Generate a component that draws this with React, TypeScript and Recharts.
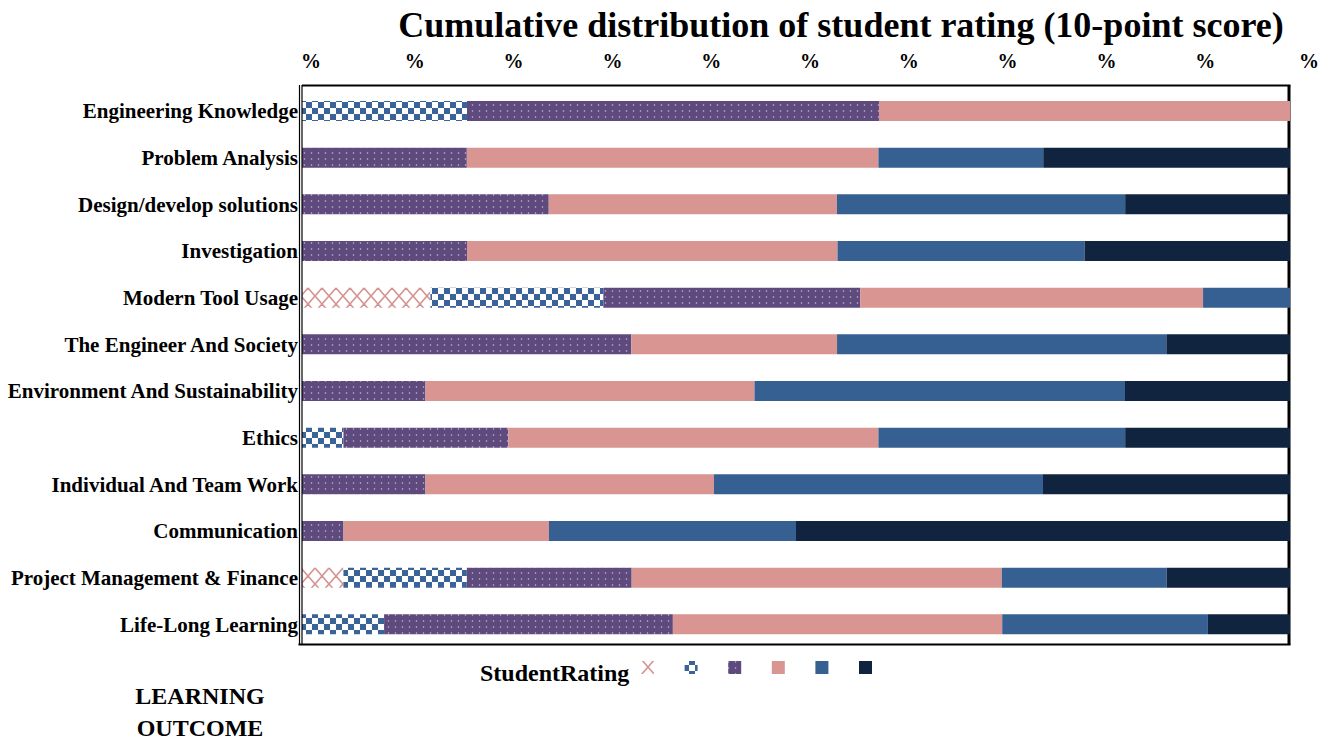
import React from "react";
import { BarChart, Bar, XAxis, YAxis, ReferenceLine, ReferenceArea } from "recharts";

const categories = [
  "Engineering Knowledge",
  "Problem Analysis",
  "Design/develop solutions",
  "Investigation",
  "Modern Tool Usage",
  "The Engineer And Society",
  "Environment And Sustainability",
  "Ethics",
  "Individual And Team Work",
  "Communication",
  "Project Management & Finance",
  "Life-Long Learning",
];

// share of students (%) per rating band, one array per series
const seriesCross = [0, 0, 0, 0, 13.0, 0, 0, 0, 0, 0, 4.2, 0];
const seriesChecker = [16.7, 0, 0, 0, 17.5, 0, 0, 4.2, 0, 0, 12.5, 8.3];
const seriesDots = [41.7, 16.7, 25, 16.7, 26.0, 33.3, 12.5, 16.7, 12.5, 4.2, 16.7, 29.2];
const seriesPink = [41.6, 41.7, 29.2, 37.5, 34.7, 20.8, 33.3, 37.5, 29.2, 20.8, 37.5, 33.3];
const seriesBlue = [0, 16.7, 29.2, 25, 8.8, 33.3, 37.5, 25, 33.3, 25, 16.7, 20.8];
const seriesNavy = [0, 25, 16.7, 20.8, 0, 12.5, 16.7, 16.7, 25, 50, 12.5, 8.3];

const xTicks = [0, 0.1, 0.2, 0.3, 0.4, 0.5, 0.6, 0.7, 0.8, 0.9, 1];

const series = [
  { key: "r1", values: seriesCross, fill: "url(#patCross)" },
  { key: "r2", values: seriesChecker, fill: "url(#patChecker)" },
  { key: "r3", values: seriesDots, fill: "url(#patDots)" },
  { key: "r4", values: seriesPink, fill: "#D99592" },
  { key: "r5", values: seriesBlue, fill: "#376092" },
  { key: "r6", values: seriesNavy, fill: "#10243F" },
];

const data = categories.map((name, i) => {
  const row: any = { name };
  series.forEach((s) => (row[s.key] = s.values[i]));
  return row;
});

const FONT = '"Liberation Serif", "Times New Roman", serif';

const XTick = (props: any) => {
  const { x, payload } = props;
  const digits = String(Math.round(payload.value * 100)).length;
  return (
    <text
      x={x + digits * 5 + 4}
      y={61}
      textAnchor="middle"
      dominantBaseline="central"
      fontFamily={FONT}
      fontWeight="bold"
      fontSize={20}
      fill="#000"
    >
      %
    </text>
  );
};

const YTick = (props: any) => {
  const { x, y, payload } = props;
  return (
    <text
      x={x}
      y={y}
      textAnchor="end"
      dominantBaseline="central"
      fontFamily={FONT}
      fontWeight="bold"
      fontSize={21}
      fill="#000"
    >
      {payload.value}
    </text>
  );
};

const DoubleLeftLine = (props: any) => {
  const { x1, y1, x2, y2 } = props;
  return <line x1={x1 - 2.5} y1={y1 - 3} x2={x2 - 2.5} y2={y2 - 3} stroke="#000" strokeWidth={1.2} />;
};

const FrameShape = (props: any) => {
  const { x, y, width, height } = props;
  const top = y - 2.5;
  const bottom = y + height - 3.5;
  const right = x + width - 1;
  return (
    <g>
      <line x1={x} y1={top} x2={right + 1.5} y2={top} stroke="#000" strokeWidth={2} />
      <line x1={right} y1={top} x2={right} y2={bottom} stroke="#000" strokeWidth={3} />
      <line x1={x - 3.5} y1={bottom} x2={right + 1.5} y2={bottom} stroke="#000" strokeWidth={2} />
    </g>
  );
};

const Patterns = () => (
  <svg width={0} height={0} style={{ position: "absolute" }}>
    <defs>
      <pattern id="patCross" patternUnits="userSpaceOnUse" width={14} height={16}>
        <rect width={14} height={16} fill="#fff" />
        <line x1={0} y1={0} x2={14} y2={16} stroke="#D49494" strokeWidth={1.6} />
        <line x1={14} y1={0} x2={0} y2={16} stroke="#D49494" strokeWidth={1.6} />
      </pattern>
      <pattern id="patChecker" patternUnits="userSpaceOnUse" width={12} height={12}>
        <rect width={12} height={12} fill="#fff" />
        <rect x={0} y={0} width={6} height={6} fill="#3A6498" />
        <rect x={6} y={6} width={6} height={6} fill="#3A6498" />
      </pattern>
      <pattern id="patDots" patternUnits="userSpaceOnUse" width={7} height={6}>
        <rect width={7} height={6} fill="#5E4A7D" />
        <circle cx={3.5} cy={3} r={0.8} fill="#C4B8DA" />
      </pattern>
    </defs>
  </svg>
);

export default function App() {
  return (
    <div style={{ position: "absolute", left: 0, top: 0, width: 1335, height: 742, background: "#fff" }}>
      <Patterns />
      <div
        style={{
          position: "absolute",
          left: 341,
          top: 6,
          width: 1000,
          textAlign: "center",
          fontFamily: FONT,
          fontWeight: "bold",
          fontSize: 36,
          lineHeight: "38px",
          color: "#000",
          whiteSpace: "nowrap",
        }}
      >
        Cumulative distribution of student rating (10-point score)
      </div>
      <BarChart
        width={1335}
        height={742}
        data={data}
        layout="vertical"
        stackOffset="expand"
        margin={{ top: 48, right: 45, bottom: 94, left: 0 }}
        barSize={20}
      >
        <XAxis
          type="number"
          orientation="top"
          domain={[0, 1]}
          ticks={xTicks}
          height={40}
          tickLine={false}
          axisLine={false}
          tick={<XTick />}
          interval={0}
        />
        <YAxis
          type="category"
          dataKey="name"
          width={302}
          tickLine={false}
          tickSize={0}
          tickMargin={4}
          axisLine={false}
          tick={<YTick />}
          interval={0}
        />
        {series.map((s) => (
          <Bar key={s.key} dataKey={s.key} stackId="a" fill={s.fill} isAnimationActive={false} />
        ))}
        <ReferenceLine x={0} stroke="#000" strokeWidth={1.2} shape={(p: any) => (
          <line x1={p.x1} y1={p.y1 - 3} x2={p.x2} y2={p.y2 - 3} stroke="#000" strokeWidth={1.2} />
        )} />
        <ReferenceLine x={0} shape={<DoubleLeftLine />} />
        <ReferenceArea x1={0} x2={1} fill="none" shape={<FrameShape />} />
      </BarChart>
      <div
        style={{
          position: "absolute",
          left: 480,
          top: 659,
          fontFamily: FONT,
          fontWeight: "bold",
          fontSize: 24,
          lineHeight: "28px",
          color: "#000",
          display: "flex",
          alignItems: "center",
        }}
      >
        <span>StudentRating</span>
        <svg width={240} height={28} style={{ marginLeft: 12 }}>
          {series.map((s, i) => (
            <rect key={s.key} x={i * 43.6} y={2} width={13} height={13} fill={s.fill} />
          ))}
        </svg>
      </div>
      <div
        style={{
          position: "absolute",
          left: 100,
          top: 680,
          width: 200,
          textAlign: "center",
          fontFamily: FONT,
          fontWeight: "bold",
          fontSize: 24,
          lineHeight: "32px",
          color: "#000",
        }}
      >
        LEARNING
        <br />
        OUTCOME
      </div>
    </div>
  );
}
